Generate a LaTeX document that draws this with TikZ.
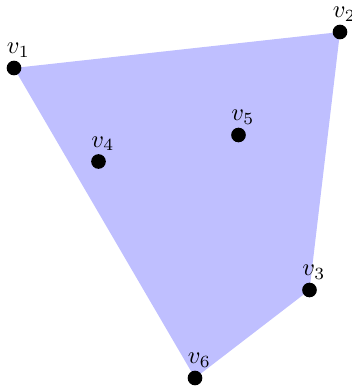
\documentclass[tikz,border=0pt]{standalone}
\usetikzlibrary{backgrounds}

\begin{document}
\begin{tikzpicture}[
            x=0.01437cm, y=-0.01437cm,
            vertex/.style={circle, fill=black, inner sep=0pt, minimum size=6pt},
            vlabel/.style={label distance=0pt, inner sep=1pt, xshift=1.8pt}
        ]
            \useasboundingbox (0,0) rectangle (352,388);
            \node[vertex, label={[vlabel]above:$v_1$}] (v1) at (14,68)    {};
            \node[vertex, label={[vlabel]above:$v_2$}] (v2) at (340,32)   {};
            \node[vertex, label={[vlabel]above:$v_3$}] (v3) at (309.5,290) {};
            \node[vertex, label={[vlabel]above:$v_4$}] (v4) at (98.5,161.5) {};
            \node[vertex, label={[vlabel]above:$v_5$}] (v5) at (238.5,135) {};
            \node[vertex, label={[vlabel]above:$v_6$}] (v6) at (195,378)  {};
            \begin{scope}[on background layer]
                \fill[blue!25] (v1.center) -- (v2.center) -- (v3.center) -- (v6.center) -- cycle;
            \end{scope}
        \end{tikzpicture}
\end{document}
